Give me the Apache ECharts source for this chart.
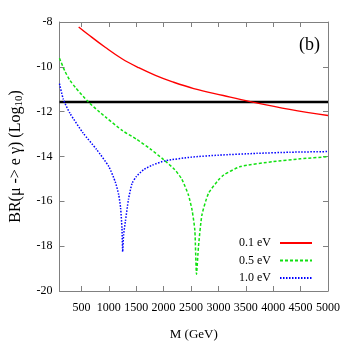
<!DOCTYPE html>
<html>
<head>
<meta charset="utf-8">
<script src="https://cdn.jsdelivr.net/npm/echarts@6/dist/echarts.min.js"></script>
<style>html,body{margin:0;padding:0;background:#fff;}#c{width:346px;height:346px;}</style>
</head>
<body>
<div id="c"></div>
<script>
// ---- data ----
const redM   = [450, 630, 940, 1240, 1545, 1850, 2150, 2550, 3090, 3580, 4300, 5000];
const redV   = [-8.22, -8.57, -9.14, -9.64, -10.04, -10.38, -10.66, -10.97, -11.28, -11.55, -11.9, -12.17];

const greenM = [100, 200, 290, 400, 620, 800, 960, 1250, 1500, 1750, 2000, 2200, 2330, 2450, 2520, 2570, 2600, 2637, 2700, 2820, 3000, 3100, 3400, 4000, 4500, 5000];
const greenV = [-9.62, -10.2, -10.6, -10.95, -11.55, -11.95, -12.28, -12.85, -13.22, -13.65, -14.14, -14.58, -15.0, -15.7, -16.4, -17.3, -19.25, -18.0, -16.6, -15.64, -15.05, -14.82, -14.45, -14.23, -14.1, -14.01];

const blueM  = [100, 170, 290, 530, 775, 1000, 1120, 1180, 1215, 1240, 1253, 1270, 1302, 1360, 1424, 1500, 1640, 1800, 2030, 2500, 3000, 3700, 4300, 5000];
const blueV  = [-10.75, -11.45, -12.07, -12.95, -13.68, -14.45, -15.15, -15.7, -16.3, -17.2, -18.25, -17.5, -16.9, -15.9, -15.2, -14.9, -14.58, -14.38, -14.19, -14.03, -13.94, -13.86, -13.81, -13.78];

const boundM = [100, 5000];
const boundV = [-11.57, -11.57];

const seriesNames = ['0.1 eV', '0.5 eV', '1.0 eV'];
const xTickValues = [500, 1000, 1500, 2000, 2500, 3000, 3500, 4000, 4500, 5000];
const xRange = [100, 5000];
const yTicks = {min: -20, max: -8, step: 2};

const zip = (a, b) => a.map((v, i) => [v, b[i]]);
const serif = 'Liberation Serif';
const frame = '#808080';

const axisCommon = {
  type: 'value',
  axisLine: {show: true, lineStyle: {color: frame, width: 1}},
  axisTick: {show: true, inside: true, length: 5, lineStyle: {color: frame}},
  splitLine: {show: false}
};

const chart = echarts.init(document.getElementById('c'), null, {renderer: 'canvas'});
chart.setOption({
  animation: false,
  backgroundColor: '#fff',
  grid: {left: 59, right: 18, top: 22, bottom: 55},
  xAxis: [
    Object.assign({}, axisCommon, {
      position: 'bottom', min: xRange[0], max: xRange[1],
      axisTick: {show: true, inside: true, length: 5, lineStyle: {color: frame}, customValues: xTickValues},
      axisLabel: {customValues: xTickValues, formatter: v => String(v), hideOverlap: false,
        color: '#000', fontFamily: serif, fontSize: 12, margin: 11},
      name: 'M (GeV)', nameLocation: 'middle', nameGap: 37,
      nameTextStyle: {color: '#000', fontFamily: serif, fontSize: 13}
    }),
    Object.assign({}, axisCommon, {
      position: 'top', min: xRange[0], max: xRange[1],
      axisTick: {show: true, inside: true, length: 5, lineStyle: {color: frame}, customValues: xTickValues},
      axisLabel: {show: false}
    })
  ],
  yAxis: [
    Object.assign({}, axisCommon, {
      position: 'left', min: yTicks.min, max: yTicks.max, interval: yTicks.step,
      axisLabel: {color: '#000', fontFamily: serif, fontSize: 12, margin: 7},
      name: 'BR(μ -> e γ) (Log{s|10})', nameLocation: 'middle', nameGap: 35,
      nameTextStyle: {color: '#000', fontFamily: serif, fontSize: 16,
        rich: {s: {fontFamily: serif, fontSize: 11, verticalAlign: 'bottom', padding: [6, 0, 0, 0]}}}
    }),
    Object.assign({}, axisCommon, {
      position: 'right', min: yTicks.min, max: yTicks.max, interval: yTicks.step,
      axisLabel: {show: false}
    })
  ],
  legend: {
    data: seriesNames,
    orient: 'vertical', right: 33, top: 237, align: 'right', padding: 0,
    itemWidth: 32, itemHeight: 12, itemGap: 5.5,
    itemStyle: {opacity: 0},
    textStyle: {color: '#000', fontFamily: serif, fontSize: 12, padding: [0, 4, 0, 0]}
  },
  graphic: [{
    type: 'text', right: 26, top: 36,
    style: {text: '(b)', fill: '#000', font: '18px "Liberation Serif"'}
  }],
  series: [
    {name: seriesNames[0], type: 'line', data: zip(redM, redV), showSymbol: false, symbol: 'none', smooth: 0.4,
     lineStyle: {color: '#ff0000', width: 1.4, type: 'solid'}, itemStyle: {color: '#ff0000'}},
    {name: seriesNames[1], type: 'line', data: zip(greenM, greenV), showSymbol: false, symbol: 'none', smooth: 0.2,
     lineStyle: {color: '#11e011', width: 1.5, type: [3, 2]}, itemStyle: {color: '#11e011'}},
    {name: seriesNames[2], type: 'line', data: zip(blueM, blueV), showSymbol: false, symbol: 'none', smooth: 0.2,
     lineStyle: {color: '#0000ff', width: 1.5, type: [1.5, 1.5]}, itemStyle: {color: '#0000ff'}},
    {name: 'bound', type: 'line', data: zip(boundM, boundV), showSymbol: false, symbol: 'none',
     lineStyle: {color: '#000', width: 2.5}, z: 1}
  ]
});
</script>
</body>
</html>
